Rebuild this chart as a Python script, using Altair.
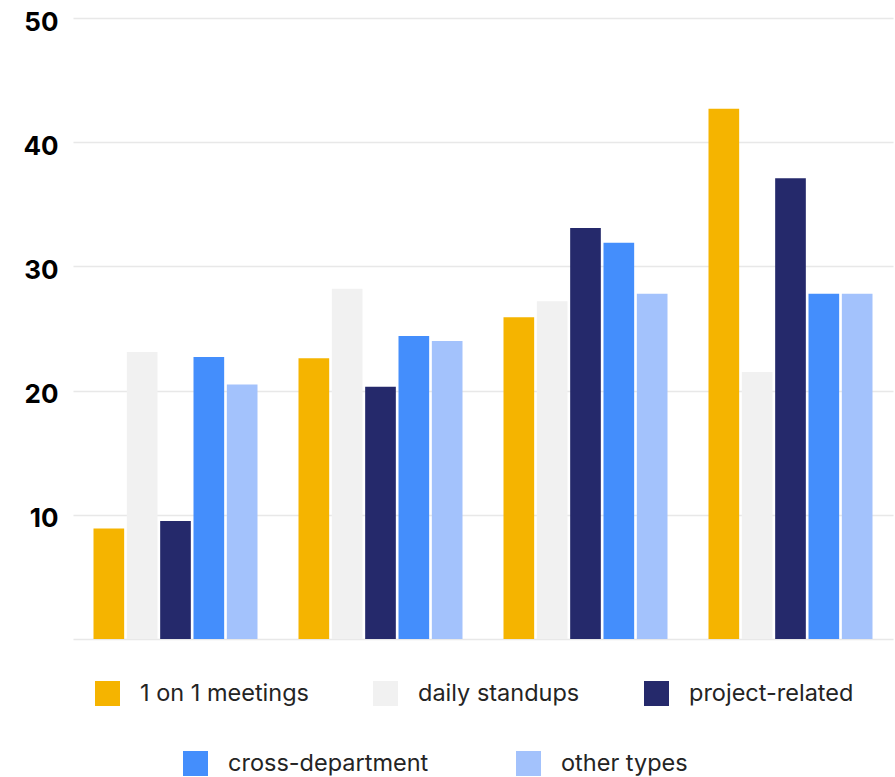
import altair as alt
import pandas as pd

# Meeting categories and the four reporting periods (period labels are not shown)
periods = ["P1", "P2", "P3", "P4"]
series = ["1 on 1 meetings", "daily standups", "project-related", "cross-department", "other types"]

one_on_one = [8.9, 22.6, 25.9, 42.7]
standups = [23.1, 28.2, 27.2, 21.5]
project_related = [9.5, 20.3, 33.1, 37.1]
cross_department = [22.7, 24.4, 31.9, 27.8]
other_types = [20.5, 24.0, 27.8, 27.8]

colors = ["#F5B400", "#F1F1F1", "#25296B", "#448EFC", "#A3C2FC"]
y_ticks = [0, 10, 20, 30, 40, 50]

values_by_series = [one_on_one, standups, project_related, cross_department, other_types]
rows = []
for name, vals in zip(series, values_by_series):
    for period, v in zip(periods, vals):
        rows.append({"period": period, "series": name, "value": v})
df = pd.DataFrame(rows)

base = alt.Chart(df).mark_bar().encode(
    x=alt.X("period:N", sort=periods, axis=None,
            scale=alt.Scale(paddingInner=0.2, paddingOuter=0.1)),
    xOffset=alt.XOffset("series:N", sort=series,
                        scale=alt.Scale(domain=series, paddingInner=0.08, paddingOuter=0)),
    y=alt.Y("value:Q", title=None,
            scale=alt.Scale(domain=[0, 50], nice=False),
            axis=alt.Axis(values=y_ticks, ticks=False, domain=False,
                          labelExpr="datum.value == 0 ? '' : datum.label",
                          labelFont="Inter", labelFontWeight="bold", labelFontSize=26,
                          labelColor="#000000", labelPadding=15, labelOffset=4,
                          gridColor="#E8E8E8", gridWidth=1.5)),
)


def legend_for(x, y, spacing):
    return alt.Legend(orient="none", legendX=x, legendY=y, direction="horizontal",
                      title=None, symbolType="square", symbolSize=625,
                      symbolStrokeWidth=0, labelFont="Inter", labelFontSize=23.5,
                      labelColor="#242424", labelOffset=20, labelLimit=400,
                      columnPadding=spacing, padding=0)


top_row = base.transform_filter(
    alt.FieldOneOfPredicate(field="series", oneOf=series[:3])
).encode(
    color=alt.Color("series:N", sort=series[:3],
                    scale=alt.Scale(domain=series[:3], range=colors[:3]),
                    legend=legend_for(22, 663, 64))
)

bottom_row = base.transform_filter(
    alt.FieldOneOfPredicate(field="series", oneOf=series[3:])
).encode(
    fill=alt.Fill("series:N", sort=series[3:],
                  scale=alt.Scale(domain=series[3:], range=colors[3:]),
                  legend=legend_for(110, 733, 87))
)

chart = alt.layer(top_row, bottom_row).resolve_scale(
    color="independent", fill="independent"
).properties(
    width=820, height=621,
    autosize=alt.AutoSizeParams(type="none"),
    padding={"left": 73, "top": 18, "right": 2, "bottom": 138},
    background="#FFFFFF",
).configure_view(stroke=None)

chart.save("out.html", embed_options={"renderer": "svg", "actions": False})
